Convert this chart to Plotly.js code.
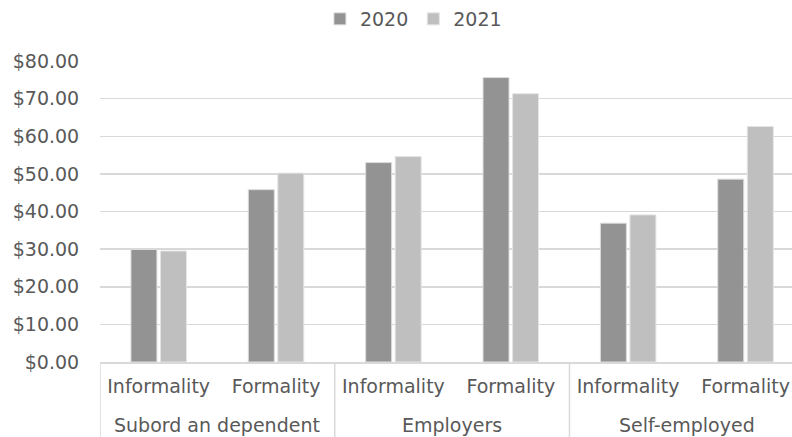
<!DOCTYPE html>
<html>
<head>
<meta charset="utf-8">
<script src="https://cdn.plot.ly/plotly-3.0.1.min.js"></script>
<style>
  html, body { margin: 0; padding: 0; background: #fff; }
  #chart { width: 792px; height: 437px; }
</style>
</head>
<body>
<div id="chart"></div>
<script>
// Worker groups (outer level) and formality split (inner level)
const groups = ["Subord an dependent", "Subord an dependent", "Employers", "Employers", "Self-employed", "Self-employed"];
const sectors = ["Informality", "Formality", "Informality", "Formality", "Informality", "Formality"];

// Average values per group, in dollars
const values2020 = [29.9, 45.8, 53.0, 75.6, 36.9, 48.6];
const values2021 = [29.5, 50.2, 54.6, 71.3, 39.1, 62.6];

const seriesNames = ["2020", "2021"];

const textColor = "#595959";
const gridColor = "#d9d9d9";
const font = { family: "DejaVu Sans, Arial, sans-serif", size: 19, color: textColor };

// One unique category per (group, sector) pair; the axis shows only the sector
const categoryKeys = groups.map((g, i) => g + " / " + sectors[i]);

const traces = [
  {
    type: "bar",
    name: seriesNames[0],
    x: categoryKeys,
    y: values2020,
    marker: { color: "#939393", line: { color: "#dcdcdc", width: 1 } }
  },
  {
    type: "bar",
    name: seriesNames[1],
    x: categoryKeys,
    y: values2021,
    marker: { color: "#bfbfbf", line: { color: "#e4e4e4", width: 1 } }
  }
];

// Outer-level group labels and the divider lines between groups
const uniqueGroups = [...new Set(groups)];
const groupAnnotations = [];
const dividerShapes = [];
uniqueGroups.forEach(g => {
  const first = groups.indexOf(g);
  const last = groups.lastIndexOf(g);
  groupAnnotations.push({
    xref: "x", yref: "paper",
    x: (first + last) / 2, y: -0.209,
    xanchor: "center", yanchor: "middle",
    text: g, showarrow: false, font: font
  });
  dividerShapes.push({
    type: "line", xref: "x", yref: "paper",
    x0: first - 0.5, x1: first - 0.5, y0: 0, y1: -0.26,
    line: { color: gridColor, width: 1.5 }
  });
});
dividerShapes.push({
  type: "line", xref: "x", yref: "paper",
  x0: groups.length - 0.5, x1: groups.length - 0.5, y0: 0, y1: -0.26,
  line: { color: gridColor, width: 1.5 }
});

const layout = {
  width: 792,
  height: 437,
  margin: { l: 100, r: 0, t: 61, b: 75 },
  paper_bgcolor: "#ffffff",
  plot_bgcolor: "#ffffff",
  font: font,
  barmode: "group",
  bargap: 0.497,
  bargroupgap: 0.12,
  showlegend: true,
  legend: {
    orientation: "h",
    xref: "container",
    yref: "container",
    x: 0.522,
    xanchor: "center",
    y: 1.0,
    yanchor: "top",
    font: font,
    itemwidth: 30,
    tracegroupgap: 0
  },
  xaxis: {
    type: "category",
    range: [-0.5, 5.396],
    tickmode: "array",
    tickvals: categoryKeys,
    ticktext: sectors,
    showline: true,
    linecolor: gridColor,
    linewidth: 1.5,
    showgrid: false,
    ticks: "",
    ticklabelstandoff: 7,
    tickfont: font
  },
  yaxis: {
    range: [0, 80],
    dtick: 10,
    tickformat: "$.2f",
    showgrid: true,
    gridcolor: gridColor,
    gridwidth: 1.5,
    zeroline: false,
    showline: false,
    ticks: "outside",
    ticklen: 16,
    tickcolor: "rgba(0,0,0,0)",
    tickfont: font
  },
  annotations: groupAnnotations,
  shapes: dividerShapes
};

Plotly.newPlot("chart", traces, layout, { displayModeBar: false, staticPlot: true });
</script>
</body>
</html>
